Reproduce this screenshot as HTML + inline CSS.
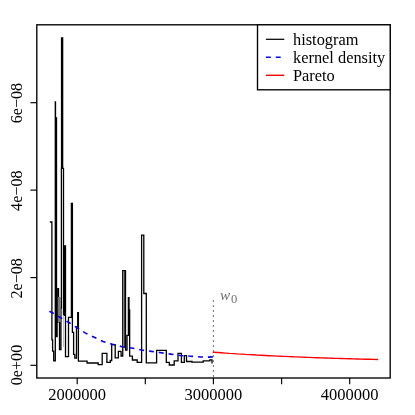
<!DOCTYPE html>
<html><head><meta charset="utf-8"><title>plot</title>
<style>
html,body{margin:0;padding:0;background:#fff;}
svg{display:block;will-change:transform;}
text{font-family:"Liberation Serif",serif;font-size:16.5px;fill:#000;}
</style></head><body>
<svg width="415" height="415" viewBox="0 0 415 415">
<rect width="415" height="415" fill="#fff"/>
<path d="M49.8,222 H51.9 V339.8 H52.6 V351.2 H53.7 V360.8 H55.3 V101.8 H55.5 V118 H56.5 V336.5 H57.1 V322 H57.9 V288.6 H58.5 V297 M59.5,322 V349.6 H60.95 V308 H61.4 V168.3 H61.55 V37.8 H62.65 V168.3 H63.5 V315.3 H64.6 V245.8 H65.5 V356.6 H68.5 V317.4 H71.4 V203.4 H72.4 V332.3 H73.6 V354.3 H74.8 V358.1 H76.5 V327 H77.7 V312.7 H78.4 V361.2 H87.1 V363 H98.2 V364.6 H102.2 V353.4 H106.9 V362.3 H110.3 V360.5 H111.7 V344.6 H115.2 V357.9 H118.4 V351.4 H121.1 V356 H122.75 V270.7 H125.5 V350.1 H127.0 V335.3 H128.4 V297.6 H129.0 V309.9 H129.65 V356.1 H132.4 V360 H137.2 V362.3 H141.6 V235.1 H143.8 V293.5 H146.3 V362.8 H156.6 V350.4 H166.3 V362.3 H169.3 V365.0 H174.2 V360.8 H178.0 V353.3 H181.4 V362.3 H184.3 V355.7 H186.5 V361.5 H192.0 V362.2 H203.2 V360.8 H209.8 V359.9 H212 V363.4" fill="none" stroke="#000" stroke-width="1.3" stroke-linejoin="miter" stroke-linecap="butt"/>
<rect x="57.9" y="297" width="2.9" height="25" fill="#7a7a7a"/>
<line x1="63.5" y1="315.3" x2="63.5" y2="347" stroke="#c0c0c0" stroke-width="1"/>
<line x1="124.35" y1="271" x2="124.35" y2="348" stroke="#2a2a2a" stroke-width="1.1"/>
<path d="M49.4,311.3 L53.7,313.5 L60.0,317.3 L68.5,322.2 L76.8,327.5 L85.5,333.1 L94.2,337.3 L103.0,341.4 L112.5,344.3 L122.0,346.7 L131.7,348.0 L141.6,350.0 L151.3,351.4 L161.0,352.7 L170.5,354.1 L180.6,355.5 L190.3,356.2 L200.5,357.0 L207.8,357.1 L213.3,356.9" fill="none" stroke="#0000ff" stroke-width="1.6" stroke-dasharray="4.9 4.98"/>
<line x1="213.4" y1="301.0" x2="213.4" y2="378" stroke="#3c3c3c" stroke-width="1.4" stroke-dasharray="0 5" stroke-linecap="round"/>
<path d="M213.4,352.2 L217.4,352.5 L221.4,352.8 L225.4,353.1 L229.4,353.4 L233.4,353.6 L237.4,353.9 L241.4,354.1 L245.4,354.4 L249.4,354.6 L253.4,354.8 L257.4,355.1 L261.4,355.3 L265.4,355.5 L269.4,355.7 L273.4,355.9 L277.4,356.1 L281.4,356.3 L285.4,356.4 L289.4,356.6 L293.4,356.8 L297.4,356.9 L301.4,357.1 L305.4,357.3 L309.4,357.4 L313.4,357.6 L317.4,357.7 L321.4,357.9 L325.4,358.0 L329.4,358.1 L333.4,358.3 L337.4,358.4 L341.4,358.5 L345.4,358.6 L349.4,358.7 L353.4,358.9 L357.4,359.0 L361.4,359.1 L365.4,359.2 L369.4,359.3 L373.4,359.4 L377.4,359.5 L377.5,359.5" fill="none" stroke="#ff0000" stroke-width="1.4" stroke-linecap="round"/>
<rect x="36.8" y="24.8" width="353.4" height="353.2" fill="none" stroke="#000" stroke-width="1.35"/>
<line x1="77.2" y1="378" x2="77.2" y2="384.2" stroke="#000" stroke-width="1.15"/>
<line x1="145.3" y1="378" x2="145.3" y2="384.2" stroke="#000" stroke-width="1.15"/>
<line x1="213.4" y1="378" x2="213.4" y2="384.2" stroke="#000" stroke-width="1.15"/>
<line x1="281.6" y1="378" x2="281.6" y2="384.2" stroke="#000" stroke-width="1.15"/>
<line x1="349.7" y1="378" x2="349.7" y2="384.2" stroke="#000" stroke-width="1.15"/>
<line x1="30.4" y1="365.3" x2="36.8" y2="365.3" stroke="#000" stroke-width="1.15"/>
<line x1="30.4" y1="277.6" x2="36.8" y2="277.6" stroke="#000" stroke-width="1.15"/>
<line x1="30.4" y1="190.1" x2="36.8" y2="190.1" stroke="#000" stroke-width="1.15"/>
<line x1="30.4" y1="102.7" x2="36.8" y2="102.7" stroke="#000" stroke-width="1.15"/>
<text x="77.2" y="399.7" text-anchor="middle">2000000</text>
<text x="213.4" y="399.7" text-anchor="middle">3000000</text>
<text x="349.7" y="399.7" text-anchor="middle">4000000</text>
<text transform="translate(22.3,365) rotate(-90)" text-anchor="middle" style="font-size:16.1px">0e+00</text>
<text transform="translate(22.3,278.3) rotate(-90)" text-anchor="middle" style="font-size:16.1px">2e−08</text>
<text transform="translate(22.3,190.7) rotate(-90)" text-anchor="middle" style="font-size:16.1px">4e−08</text>
<text transform="translate(22.3,103.1) rotate(-90)" text-anchor="middle" style="font-size:16.1px">6e−08</text>
<text x="220" y="299.7" font-style="italic" style="font-size:15.2px;fill:#707070">w</text>
<text x="230.9" y="302.6" style="font-size:12.6px;fill:#707070">0</text>
<rect x="257.5" y="24.8" width="132.7" height="65" fill="#fff" stroke="#000" stroke-width="1.35"/>
<line x1="265.9" y1="39.3" x2="284.3" y2="39.3" stroke="#000" stroke-width="1.25"/>
<line x1="265.9" y1="57.3" x2="284.3" y2="57.3" stroke="#0000ff" stroke-width="1.6" stroke-dasharray="4.9 5"/>
<line x1="265.9" y1="75.3" x2="284.3" y2="75.3" stroke="#ff0000" stroke-width="1.4"/>
<text x="293" y="45.1" style="font-size:16.37px">histogram</text>
<text x="293" y="62.8" style="font-size:16.37px">kernel density</text>
<text x="293" y="80.6" style="font-size:16.37px">Pareto</text>
</svg></body></html>
